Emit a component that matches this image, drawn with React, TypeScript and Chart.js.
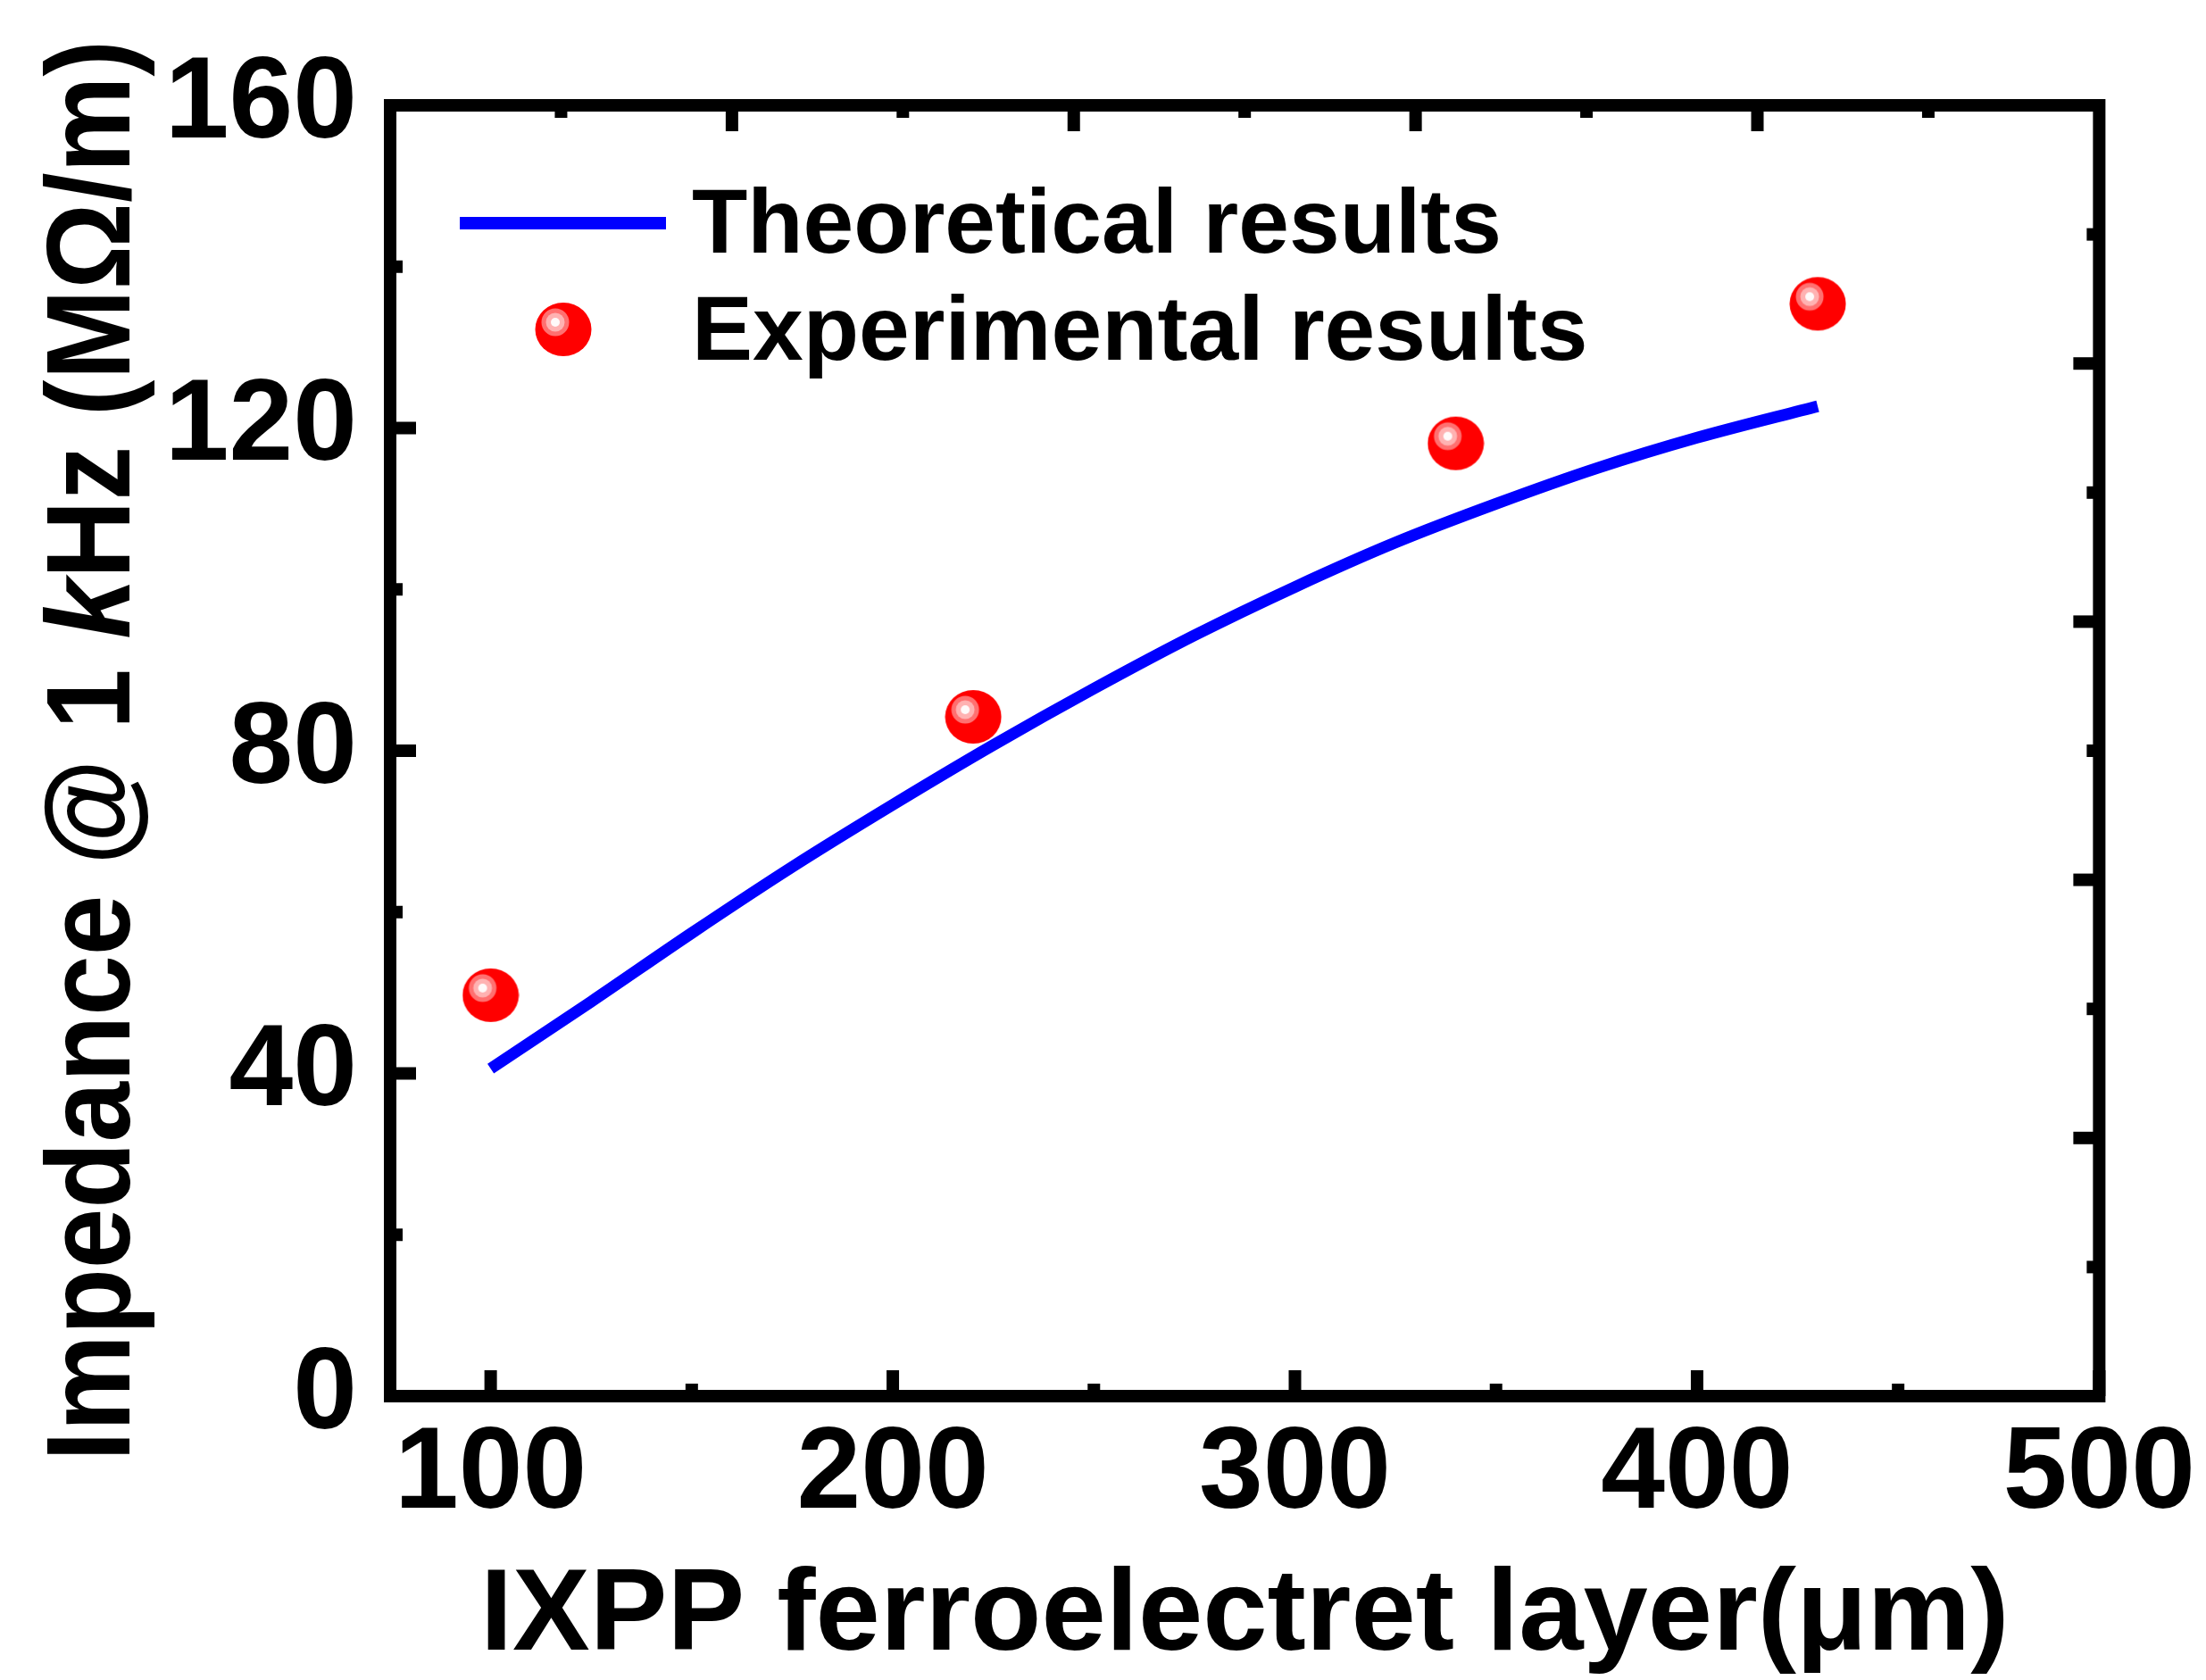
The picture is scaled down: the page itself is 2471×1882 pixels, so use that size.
import React, { useEffect, useRef } from 'react';
import { Chart, registerables } from 'chart.js';

Chart.register(...registerables);

// ---------- data ----------
const thicknessTheory = [100, 125, 150, 175, 200, 225, 250, 275, 300, 325, 350, 375, 400, 430];
const impedanceTheory = [40.6, 48.9, 57.4, 65.6, 73.3, 80.7, 87.7, 94.3, 100.3, 105.8, 110.6, 115.0, 118.8, 122.7];
const thicknessExp = [100, 220, 340, 430];
const impedanceExp = [49.7, 84.2, 118.1, 135.4];
const xMajorTicks = [100, 200, 300, 400, 500];
const xMinorTicks = [150, 250, 350, 450];
const yMajorTicks = [0, 40, 80, 120, 160];
const yMinorTicks = [20, 60, 100, 140];
const seriesLabels = ['Theoretical results', 'Experimental results'];
const xTitle = 'IXPP ferroelectret layer(μm)';
const yTitleParts: [string, boolean][] = [['Impedance @ 1 ', false], ['k', true], ['Hz (MΩ/m)', false]];

const FONT = "'Liberation Sans', Arial, sans-serif";
const W = 2471;
const H = 1882;

function makeBall(): HTMLCanvasElement {
  const c = document.createElement('canvas');
  c.width = 64;
  c.height = 62;
  const g = c.getContext('2d')!;
  g.fillStyle = '#ff0000';
  g.beginPath();
  g.ellipse(32, 31, 31.5, 30, 0, 0, Math.PI * 2);
  g.fill();
  const hx = 23, hy = 23;
  const ring = (r: number, col: string) => {
    g.fillStyle = col;
    g.beginPath();
    g.arc(hx, hy, r, 0, Math.PI * 2);
    g.fill();
  };
  ring(15.5, 'rgb(255,112,112)');
  ring(10.5, 'rgb(255,178,178)');
  ring(5, 'rgb(255,250,250)');
  return c;
}

export default function App() {
  const ref = useRef<HTMLCanvasElement | null>(null);

  useEffect(() => {
    const canvas = ref.current;
    if (!canvas) return;
    const ball = makeBall();

    const framePlugin = {
      id: 'frameTicks',
      afterDatasetsDraw(chart: any) {
        const ctx = chart.ctx;
        const { left, right, top, bottom } = chart.chartArea;
        const xs = chart.scales.x;
        const ys = chart.scales.y;
        const LW = 14;
        const MAJ = 29;
        const MIN = 14;
        ctx.save();
        ctx.strokeStyle = '#000';
        ctx.lineWidth = LW;
        ctx.lineCap = 'butt';
        ctx.lineJoin = 'miter';
        ctx.strokeRect(left, top, right - left, bottom - top);
        const seg = (x1: number, y1: number, x2: number, y2: number) => {
          ctx.beginPath();
          ctx.moveTo(x1, y1);
          ctx.lineTo(x2, y2);
          ctx.stroke();
        };
        // bottom
        xMajorTicks.forEach((v) => { const p = xs.getPixelForValue(v); seg(p, bottom, p, bottom - MAJ); });
        xMinorTicks.forEach((v) => { const p = xs.getPixelForValue(v); seg(p, bottom, p, bottom - MIN); });
        // left
        yMajorTicks.forEach((v) => { const p = ys.getPixelForValue(v); seg(left, p, left + MAJ, p); });
        yMinorTicks.forEach((v) => { const p = ys.getPixelForValue(v); seg(left, p, left + MIN, p); });
        // top & right mirror axes (10 divisions each)
        for (let i = 1; i < 10; i++) {
          const len = i % 2 === 0 ? MAJ : MIN;
          const px = left + ((right - left) * i) / 10;
          seg(px, top, px, top + len);
          const py = bottom - ((bottom - top) * i) / 10;
          seg(right, py, right - len, py);
        }
        ctx.restore();
      },
      afterDraw(chart: any) {
        const ctx = chart.ctx;
        const { top, bottom } = chart.chartArea;
        // legend
        ctx.save();
        ctx.strokeStyle = '#0000ff';
        ctx.lineWidth = 14;
        ctx.lineCap = 'butt';
        ctx.beginPath();
        ctx.moveTo(515, 250);
        ctx.lineTo(746, 250);
        ctx.stroke();
        ctx.drawImage(ball, 631 - ball.width / 2, 369 - ball.height / 2);
        ctx.fillStyle = '#000';
        ctx.font = `bold 102px ${FONT}`;
        ctx.textBaseline = 'alphabetic';
        ctx.textAlign = 'left';
        ctx.fillText(seriesLabels[0], 775, 283);
        ctx.fillText(seriesLabels[1], 775, 403);
        ctx.restore();

        // y-axis title with italic k (slightly condensed, as in the original)
        ctx.save();
        const size = 134;
        const targetLen = 1592;
        const fonts = yTitleParts.map(([, it]) => `${it ? 'italic ' : ''}bold ${size}px ${FONT}`);
        let total = 0;
        const widths = yTitleParts.map(([t], i) => {
          ctx.font = fonts[i];
          const w = ctx.measureText(t).width;
          total += w;
          return w;
        });
        const sx = targetLen / total;
        ctx.translate(145, (top + bottom) / 2);
        ctx.rotate(-Math.PI / 2);
        ctx.scale(sx, 1);
        ctx.fillStyle = '#000';
        ctx.textBaseline = 'alphabetic';
        ctx.textAlign = 'left';
        let x = -total / 2;
        yTitleParts.forEach(([t], i) => {
          ctx.font = fonts[i];
          ctx.fillText(t, x, 0);
          x += widths[i];
        });
        ctx.restore();
      },
    };

    const chart = new Chart(canvas, {
      type: 'scatter',
      data: {
        datasets: [
          {
            label: seriesLabels[0],
            data: thicknessTheory.map((x, i) => ({ x, y: impedanceTheory[i] })),
            showLine: true,
            borderColor: '#0000ff',
            backgroundColor: '#0000ff',
            borderWidth: 13,
            pointRadius: 0,
            cubicInterpolationMode: 'monotone',
            fill: false,
          } as any,
          {
            label: seriesLabels[1],
            data: thicknessExp.map((x, i) => ({ x, y: impedanceExp[i] })),
            showLine: false,
            pointStyle: ball as any,
            pointRadius: 31,
            backgroundColor: '#ff0000',
            borderColor: '#ff0000',
          } as any,
        ],
      },
      options: {
        animation: false,
        responsive: false,
        devicePixelRatio: 1,
        layout: { padding: { top: 118, right: 118, left: 0, bottom: 0 } },
        plugins: { legend: { display: false }, tooltip: { enabled: false }, title: { display: false } },
        scales: {
          x: {
            type: 'linear',
            min: 75,
            max: 500,
            afterBuildTicks: (s: any) => { s.ticks = xMajorTicks.map((v) => ({ value: v })); },
            afterFit: (s: any) => { s.height = H - 1564; },
            grid: { display: false, drawTicks: false },
            border: { display: false },
            ticks: {
              font: { family: FONT, size: 129, weight: 'bold' },
              color: '#000',
              padding: 12,
              autoSkip: false,
              maxRotation: 0,
              minRotation: 0,
            },
            title: {
              display: true,
              text: xTitle,
              color: '#000',
              font: { family: FONT, size: 130, weight: 'bold', lineHeight: 1 },
              padding: { top: 0, bottom: 5 },
            },
          },
          y: {
            type: 'linear',
            min: 0,
            max: 160,
            afterBuildTicks: (s: any) => { s.ticks = yMajorTicks.map((v) => ({ value: v })); },
            afterFit: (s: any) => { s.width = 437; },
            grid: { display: false, drawTicks: false },
            border: { display: false },
            ticks: {
              font: { family: FONT, size: 129, weight: 'bold' },
              color: '#000',
              padding: 37,
              autoSkip: false,
            },
            title: { display: false },
          },
        },
      } as any,
      plugins: [framePlugin],
    });
    return () => chart.destroy();
  }, []);

  return (
    <div style={{ position: 'absolute', left: 0, top: 0, width: W, height: H, background: '#fff' }}>
      <canvas ref={ref} width={W} height={H} style={{ width: W, height: H, display: 'block' }} />
    </div>
  );
}
